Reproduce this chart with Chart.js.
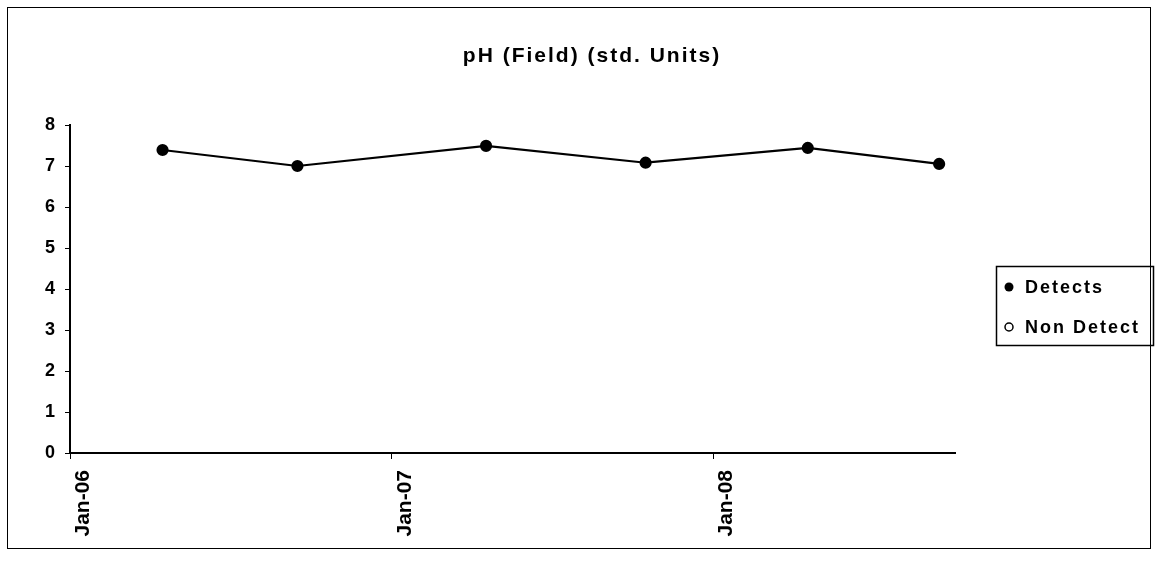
<!DOCTYPE html>
<html>
<head>
<meta charset="utf-8">
<script src="https://cdn.jsdelivr.net/npm/chart.js@4.4.0/dist/chart.umd.min.js"></script>
<style>
  html, body { margin: 0; padding: 0; background: #fff; }
  #wrap { width: 1158px; height: 574px; }
</style>
</head>
<body>
<div id="wrap"><canvas id="chart" width="1158" height="574"></canvas></div>
<script>
// sample dates and field pH readings
const sampleDates = ['2006-04-16', '2006-09-16', '2007-04-18', '2007-10-16', '2008-04-17', '2008-09-13'];
const phValues = [7.39, 7.0, 7.49, 7.08, 7.44, 7.05];
// no non-detects in this series
const nonDetectDates = [];
const nonDetectValues = [];

const xTickDates = ['2006-01-01', '2007-01-01', '2008-01-01'];
const xTickLabels = ['Jan-06', 'Jan-07', 'Jan-08'];
const xStart = '2006-01-01';
const xEnd = '2008-10-01';
const yMin = 0;
const yMax = 8;

const chartTitle = 'pH (Field) (std. Units)';
const legendLabels = ['Detects', 'Non Detect'];

function toMs(d) {
    return Date.parse(d + 'T00:00:00Z');
}

const detects = sampleDates.map((d, i) => ({ x: toMs(d), y: phValues[i] }));
const nonDetects = nonDetectDates.map((d, i) => ({ x: toMs(d), y: nonDetectValues[i] }));

const font = 'Arial, "Liberation Sans", sans-serif';

// frame, title and the boxed legend on the right
const framePlugin = {
    id: 'frame',
    afterDraw(chart) {
        const ctx = chart.ctx;
        ctx.save();
        ctx.strokeStyle = '#000';
        ctx.fillStyle = '#000';
        ctx.lineWidth = 1;
        ctx.strokeRect(7.5, 7.5, 1143, 541);

        ctx.font = 'bold 21px ' + font;
        ctx.textAlign = 'center';
        ctx.textBaseline = 'alphabetic';
        ctx.letterSpacing = '2px';
        ctx.fillText(chartTitle, 592, 62);

        ctx.lineWidth = 1.5;
        ctx.strokeRect(996.5, 266.5, 157, 79);

        ctx.beginPath();
        ctx.arc(1009, 287, 4.5, 0, Math.PI * 2);
        ctx.fill();

        ctx.beginPath();
        ctx.arc(1009, 327, 4, 0, Math.PI * 2);
        ctx.fillStyle = '#fff';
        ctx.fill();
        ctx.lineWidth = 1.5;
        ctx.stroke();

        ctx.fillStyle = '#000';
        ctx.font = 'bold 18px ' + font;
        ctx.textBaseline = 'middle';
        ctx.textAlign = 'left';
        ctx.letterSpacing = '2px';
        ctx.fillText(legendLabels[0], 1025, 288);
        ctx.fillText(legendLabels[1], 1025, 328);
        ctx.restore();
    }
};

new Chart(document.getElementById('chart'), {
    type: 'line',
    data: {
        datasets: [
            {
                label: legendLabels[0],
                data: detects,
                borderColor: '#000',
                borderWidth: 2.2,
                backgroundColor: '#000',
                pointBackgroundColor: '#000',
                pointBorderColor: '#000',
                pointRadius: 5,
                tension: 0
            },
            {
                label: legendLabels[1],
                data: nonDetects,
                showLine: false,
                pointBackgroundColor: '#fff',
                pointBorderColor: '#000',
                pointRadius: 5
            }
        ]
    },
    options: {
        responsive: false,
        animation: false,
        layout: { padding: { top: 125, left: 0, right: 203, bottom: 0 } },
        plugins: {
            legend: { display: false },
            tooltip: { enabled: false },
            title: { display: false }
        },
        scales: {
            x: {
                type: 'linear',
                min: toMs(xStart),
                max: toMs(xEnd),
                afterBuildTicks: function(scale) {
                    scale.ticks = xTickDates.map(d => ({ value: toMs(d) }));
                },
                afterFit: function(scale) {
                    scale.height = 121;
                },
                ticks: {
                    autoSkip: false,
                    minRotation: 90,
                    maxRotation: 90,
                    padding: 11,
                    labelOffset: 13,
                    color: '#000',
                    font: { family: font, size: 21, weight: 'bold' },
                    callback: function(value, index) {
                        return xTickLabels[index];
                    }
                },
                grid: {
                    display: true,
                    drawOnChartArea: false,
                    drawTicks: true,
                    tickLength: 6,
                    color: '#000'
                },
                border: { display: true, color: '#000', width: 2 }
            },
            y: {
                min: yMin,
                max: yMax,
                afterFit: function(scale) {
                    scale.width = 70;
                },
                ticks: {
                    stepSize: 1,
                    padding: 10,
                    color: '#000',
                    font: { family: font, size: 18, weight: 'bold' }
                },
                grid: {
                    display: true,
                    drawOnChartArea: false,
                    drawTicks: true,
                    tickLength: 5,
                    color: '#000'
                },
                border: { display: true, color: '#000', width: 2 }
            }
        }
    },
    plugins: [framePlugin]
});
</script>
</body>
</html>
